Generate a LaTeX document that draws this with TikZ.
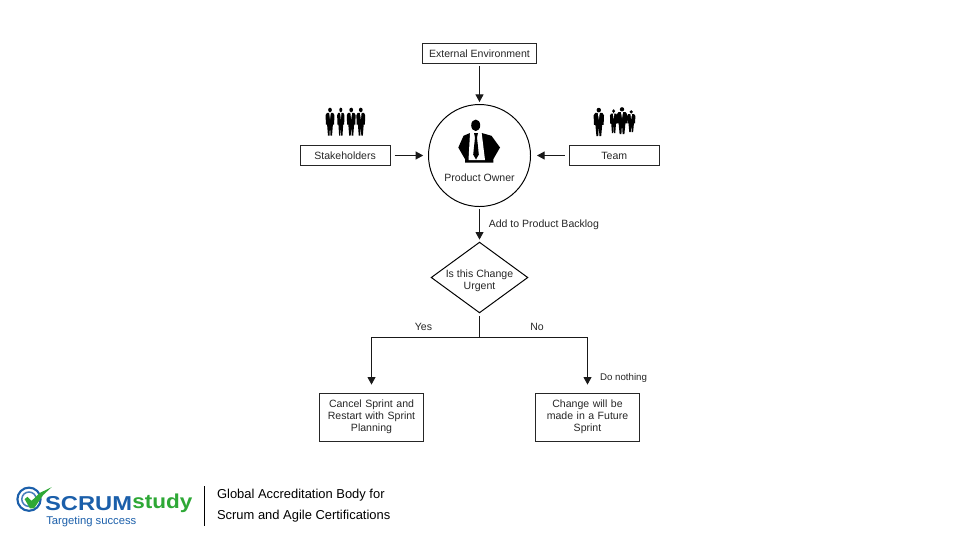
\documentclass[tikz,border=0pt]{standalone}
\usepackage{fontspec}
\setmainfont{Liberation Sans}
\usepackage{xcolor}
\usetikzlibrary{arrows.meta, positioning, shapes.geometric}

\definecolor{scrumblue}{HTML}{1B5FAA}
\definecolor{scrumgreen}{HTML}{2EA836}

\tikzset{
    person/.pic={
        \fill[black] (0,0.63) circle (0.055);
        \fill[black] (-0.09,0.56) -- (0.09,0.56) -- (0.13,0.5) -- (0.12,0.27) -- (0.085,0.27) -- (0.06,0)
            -- (0.015,0) -- (0,0.25) -- (-0.015,0) -- (-0.06,0) -- (-0.085,0.27) -- (-0.12,0.27) -- (-0.13,0.5) -- cycle;
        \fill[white] (-0.025,0.56) -- (0.025,0.56) -- (0,0.4) -- cycle;
    },
    bossman/.pic={
        \fill[black] (-9.5,-7.5) -- (2.2,-7.5) -- (12,-4.7) -- (20.5,7) -- (13.8,18.7) -- (13.8,22)
            -- (-14.5,22) -- (-14.5,18.7) -- (-21.2,7) -- (-16,-4.7) -- cycle;
        \fill[white] (-9.5,-7.3) -- (2.2,-7.3) -- (5.5,19.5) -- (-11,19.5) -- cycle;
        \fill[black] (-3.8,-15.2) ellipse (4.5 and 5.8);
        \fill[black] (-5.5,-7.5) -- (-1.5,-7.5) -- (-2.5,-3) -- (-0.7,14) -- (-3.5,19) -- (-6.3,14) -- (-4.5,-3) -- cycle;
    }
}

\begin{document}
\begin{tikzpicture}[
        node distance=1cm,
        % Node styles
        txt/.style={font=\fontsize{7.5}{8.6}\selectfont, text=black!85},
        box/.style={rectangle, draw=black!85, line width=0.7pt, txt, align=center, inner sep=0pt},
        smallbox/.style={box, minimum width=2.25cm, minimum height=0.5cm},
        bigbox/.style={box, minimum width=2.58cm, minimum height=1.2cm, text width=2.5cm},
        owner/.style={circle, draw=black, line width=0.7pt, minimum size=2.55cm, inner sep=0pt},
        decision/.style={diamond, draw=black, line width=0.7pt, minimum width=2.42cm, minimum height=1.77cm, inner sep=0pt},
        note/.style={txt, inner sep=0pt},
        arrow/.style={line width=0.7pt, draw=black!90, -{Triangle[length=0.19cm, width=0.2cm]}}
    ]
        \useasboundingbox (0,0) rectangle (24,-13.5);

        % Centre of the upper part
        \node[owner] (owner) at (11.9875,-3.8875) {};
        \pic at ([yshift=0.375cm]owner.center) [x=0.025cm, y=-0.025cm] {bossman};
        \node[note, below of=owner, yshift=0.44cm] (ownerlabel) {Product Owner};

        % Boxes round the owner
        \node[smallbox, above of=owner, yshift=1.55cm, minimum width=2.83cm] (external) {External Environment};
        \node[smallbox, left of=owner, xshift=-2.36cm] (stakeholders) {Stakeholders};
        \node[smallbox, right of=owner, xshift=2.37cm] (team) {Team};

        % Silhouettes over the boxes
        \pic[xscale=0.85, yscale=1.02] at (8.25,-3.39) {person};
        \pic[xscale=0.7, yscale=1.02] at (8.52,-3.39) {person};
        \pic[xscale=0.85, yscale=1.02] at (8.78,-3.39) {person};
        \pic[xscale=0.85, yscale=1.02] at (9.02,-3.39) {person};
        \pic[xscale=1, yscale=1.03] at (14.97,-3.4) {person};
        \pic[xscale=0.7, yscale=0.87] at (15.34,-3.325) {person};
        \pic[xscale=1, yscale=0.98] at (15.55,-3.35) {person};
        \pic[xscale=0.8, yscale=0.8] at (15.78,-3.3) {person};

        % Decision and the two ways out
        \node[decision, below of=owner, yshift=-2.05cm] (urgent) {};
        \node[note, align=center, below of=urgent, yshift=0.925cm] (urgentlabel) {Is this Change\\Urgent};
        \coordinate[below of=urgent, yshift=-0.49cm] (split);
        \node[bigbox, below of=split, xshift=-2.7cm, yshift=-1cm] (cancel) {Cancel Sprint and\\Restart with Sprint\\Planning};
        \node[bigbox, below of=split, xshift=2.7cm, yshift=-1cm] (future) {Change will be\\made in a Future\\Sprint};

        % Labels
        \node[note, left of=split, xshift=-0.4cm, yshift=0.25cm] (yeslabel) {Yes};
        \node[note, right of=split, xshift=0.44cm, yshift=0.25cm] (nolabel) {No};
        \node[note, below of=split, xshift=3.6cm, yshift=-0.02cm, font=\fontsize{6.9}{8}\selectfont] (nothing) {Do nothing};

        % Arrows into the owner
        \draw[arrow, shorten <=0.05cm, shorten >=0.05cm] (external) -- (owner);
        \draw[arrow, shorten <=0.1cm, shorten >=0.12cm] (stakeholders) -- (owner);
        \draw[arrow, shorten <=0.1cm, shorten >=0.15cm] (team) -- (owner);

        % Owner to decision
        \draw[arrow, shorten <=0.05cm, shorten >=0.05cm] (owner) -- node[note, right, xshift=0.22cm, yshift=0cm] {Add to Product Backlog} (urgent);

        % Decision paths
        \draw[line width=0.7pt, black!90, shorten <=0.07cm] (urgent) -- (split);
        \draw[arrow, shorten >=0.2cm] (split) -| (cancel);
        \draw[arrow, shorten >=0.2cm] (split) -| (future);

        % Logo and strapline
        \draw[scrumblue, line width=1.5pt] (0.725,-12.48) circle (0.29);
        \draw[scrumblue!80, line width=1.1pt] (0.725,-12.48) circle (0.18);
        \fill[scrumgreen] (0.617,-12.48) -- (0.683,-12.42) -- (0.79,-12.52) -- (1,-12.32) -- (1.29,-12.18)
            -- (1.08,-12.375) -- (0.85,-12.71) -- (0.75,-12.71) -- cycle;
        \node[anchor=west, inner sep=0pt, xscale=1.18, transform shape, text=scrumblue, font=\fontsize{14.3}{16}\selectfont\bfseries] (scrum) at (1.12,-12.59) {SCRUM};
        \node[anchor=west, inner sep=0pt, xscale=1.12, transform shape, text=scrumgreen, font=\fontsize{14.3}{16}\selectfont\bfseries] (study) at (3.3,-12.59) {study};
        \node[anchor=west, inner sep=0pt, text=scrumblue, font=\fontsize{8}{9}\selectfont] (target) at (1.15,-13.05) {Targeting success};
        \draw[black, line width=0.6pt] (5.11,-12.15) -- (5.11,-13.15);
        \node[anchor=west, inner sep=0pt, font=\fontsize{9.2}{10}\selectfont] (global) at (5.42,-12.38) {Global Accreditation Body for};
        \node[anchor=west, inner sep=0pt, font=\fontsize{9.2}{10}\selectfont] (agile) at (5.42,-12.91) {Scrum and Agile Certifications};
    \end{tikzpicture}
\end{document}
